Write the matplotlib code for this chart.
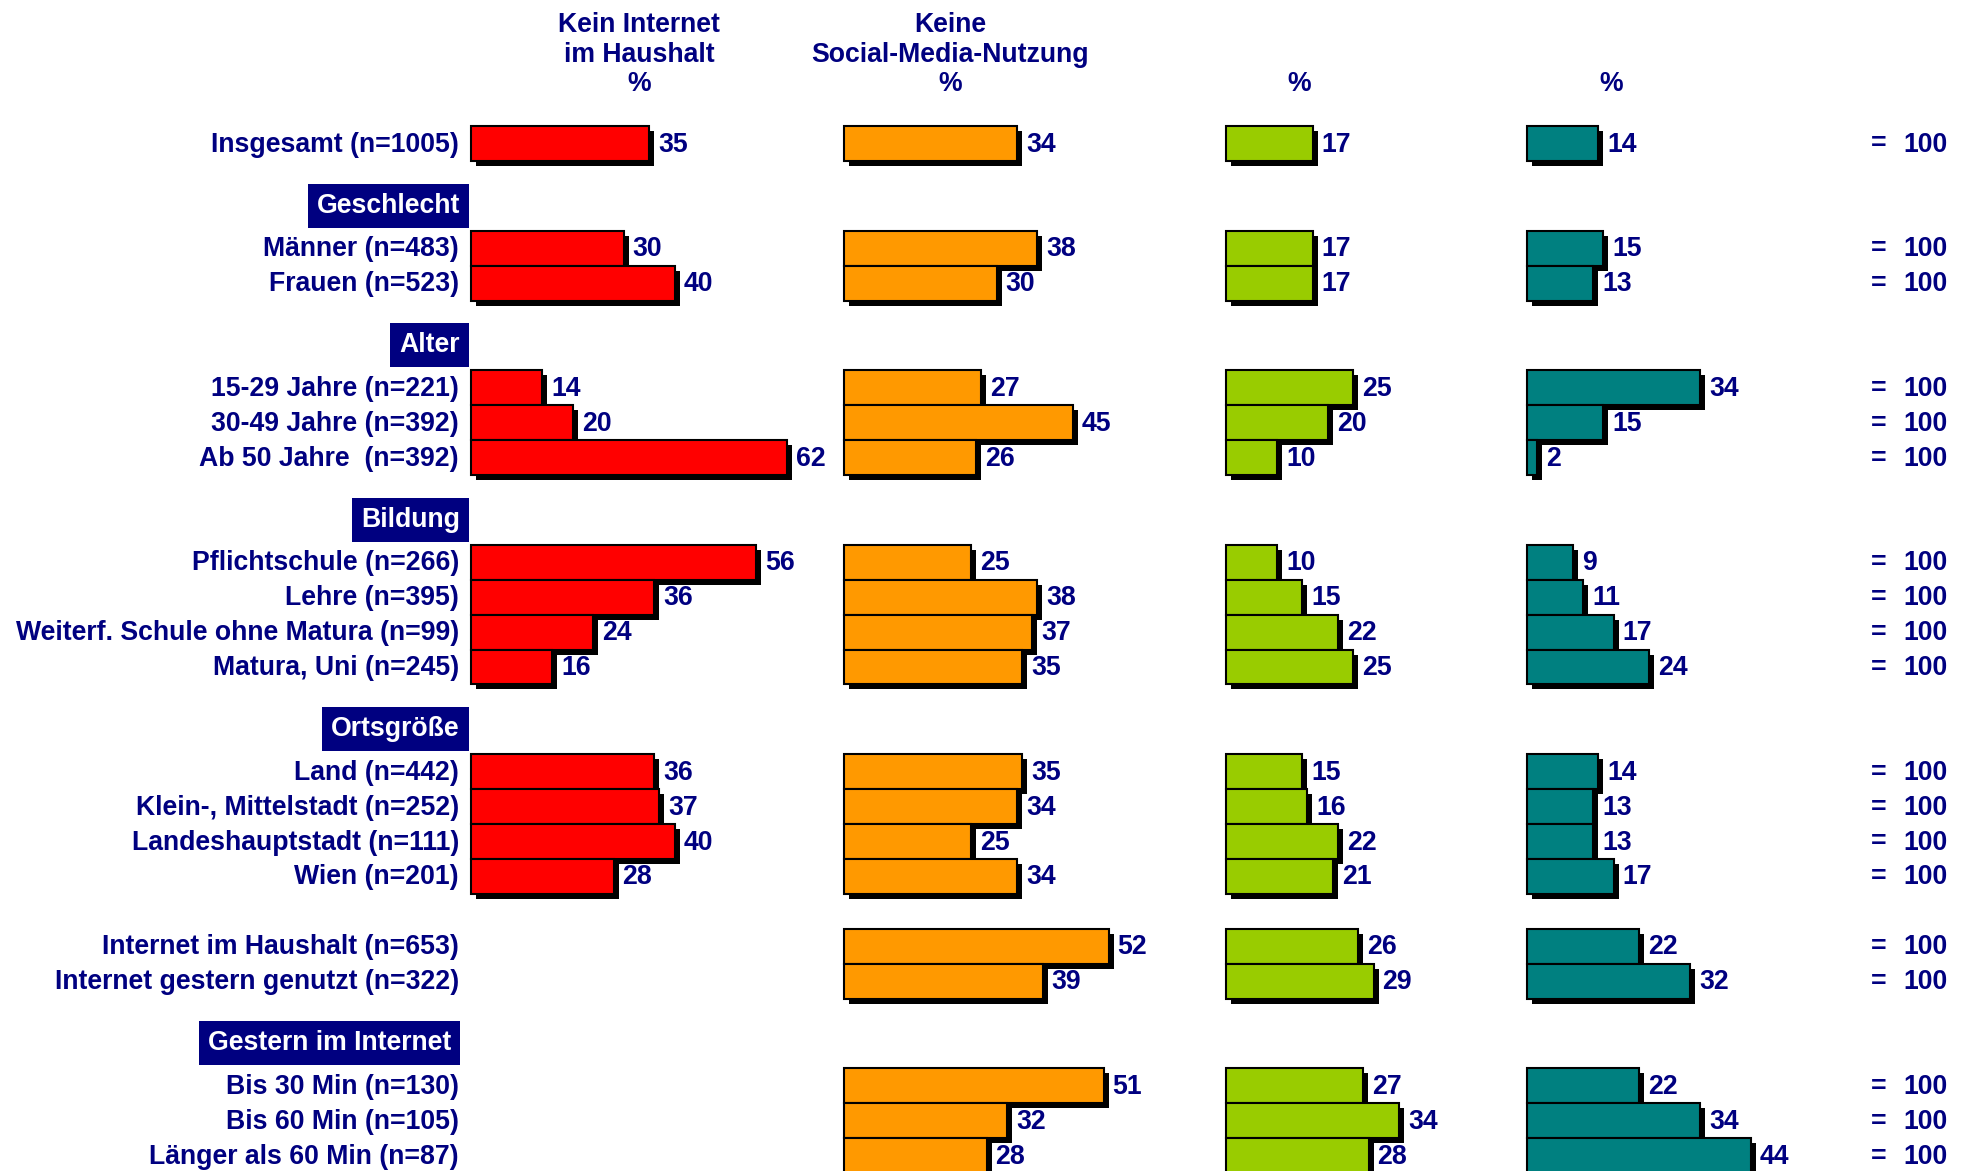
import matplotlib
matplotlib.use("Agg")
import matplotlib.pyplot as plt
import numpy as np

plt.rcParams['font.family'] = ['Liberation Sans', 'DejaVu Sans']

# ---------------- data ----------------
row_labels = [
    "Insgesamt (n=1005)",
    "Männer (n=483)", "Frauen (n=523)",
    "15-29 Jahre (n=221)", "30-49 Jahre (n=392)", "Ab 50 Jahre  (n=392)",
    "Pflichtschule (n=266)", "Lehre (n=395)", "Weiterf. Schule ohne Matura (n=99)", "Matura, Uni (n=245)",
    "Land (n=442)", "Klein-, Mittelstadt (n=252)", "Landeshauptstadt (n=111)", "Wien (n=201)",
    "Internet im Haushalt (n=653)", "Internet gestern genutzt (n=322)",
    "Bis 30 Min (n=130)", "Bis 60 Min (n=105)", "Länger als 60 Min (n=87)",
]
kein_internet = [35, 30, 40, 14, 20, 62, 56, 36, 24, 16, 36, 37, 40, 28,
                 None, None, None, None, None]
keine_social_media = [34, 38, 30, 27, 45, 26, 25, 38, 37, 35, 35, 34, 25, 34,
                      52, 39, 51, 32, 28]
gruen = [17, 17, 17, 25, 20, 10, 10, 15, 22, 25, 15, 16, 22, 21,
         26, 29, 27, 34, 28]
tuerkis = [14, 15, 13, 34, 15, 2, 9, 11, 17, 24, 14, 13, 13, 17,
           22, 32, 22, 34, 44]
totals = [100] * len(row_labels)

section_labels = ["Geschlecht", "Alter", "Bildung", "Ortsgröße", "Gestern im Internet"]
column_headers = ["Kein Internet\nim Haushalt\n%", "Keine\nSocial-Media-Nutzung\n%", "%", "%"]

# ---------------- layout ----------------
row_slots = [0, 3, 4, 7, 8, 9, 12, 13, 14, 15, 18, 19, 20, 21, 23, 24, 27, 28, 29]
section_slots = [3, 7, 12, 18, 27]  # first row of each section
section_right = [460, 460, 460, 460, 451]

W, H = 1966, 1171
y0, pitch = 143.5, 34.9
col_starts = [471, 844, 1226, 1527]
col_header_x = [639, 950, 1299, 1611]
scale = 5.09
colors = ["#FF0000", "#FF9900", "#99CC00", "#008080"]
navy = "#000080"
fs = 19.2
shadow = 5

fig = plt.figure(figsize=(W / 100, H / 100), dpi=100)
ax = fig.add_axes([0, 0, 1, 1])
ax.set_xlim(0, W)
ax.set_ylim(H, 0)
ax.axis("off")

ys = np.array([y0 + s * pitch for s in row_slots])

series = [kein_internet, keine_social_media, gruen, tuerkis]
for ci, vals in enumerate(series):
    idx = [i for i, v in enumerate(vals) if v is not None]
    yy = ys[idx]
    vv = np.array([vals[i] for i in idx], dtype=float)
    widths = vv * scale
    # shadows
    ax.barh(yy + shadow, widths, left=col_starts[ci] + shadow, height=pitch,
            color="black", zorder=1)
    # bars
    ax.barh(yy, widths, left=col_starts[ci], height=pitch, color=colors[ci],
            edgecolor="black", linewidth=1.5, zorder=2)
    for y, v, w in zip(yy, vv, widths):
        ax.text(col_starts[ci] + w + 9, y + 1, f"{int(v)}", fontsize=fs,
                fontweight="bold", color=navy, va="center", ha="left", zorder=3)

# row labels and totals
for y, lab, tot in zip(ys, row_labels, totals):
    ax.text(459, y + 1, lab, fontsize=fs, fontweight="bold", color=navy,
            ha="right", va="center")
    ax.text(1879, y + 1, "=", fontsize=fs, fontweight="bold", color=navy,
            ha="center", va="center")
    ax.text(1948, y + 1, str(tot), fontsize=fs, fontweight="bold", color=navy,
            ha="right", va="center")

# section headers
for s, lab, xr in zip(section_slots, section_labels, section_right):
    y = y0 + (s - 1.22) * pitch
    ax.text(xr, y, lab, fontsize=fs, fontweight="bold", color="white",
            ha="right", va="center",
            bbox=dict(boxstyle="square,pad=0.34", fc=navy, ec="none"))

# column headers
for x, h in zip(col_header_x, column_headers):
    lines = h.split("\n")
    n = len(lines)
    for k, line in enumerate(lines):
        ly = 84 - (n - 1 - k) * 29.5
        ax.text(x, ly, line, fontsize=fs, fontweight="bold", color=navy,
                ha="center", va="center")

fig.savefig("out.png", dpi=100)
